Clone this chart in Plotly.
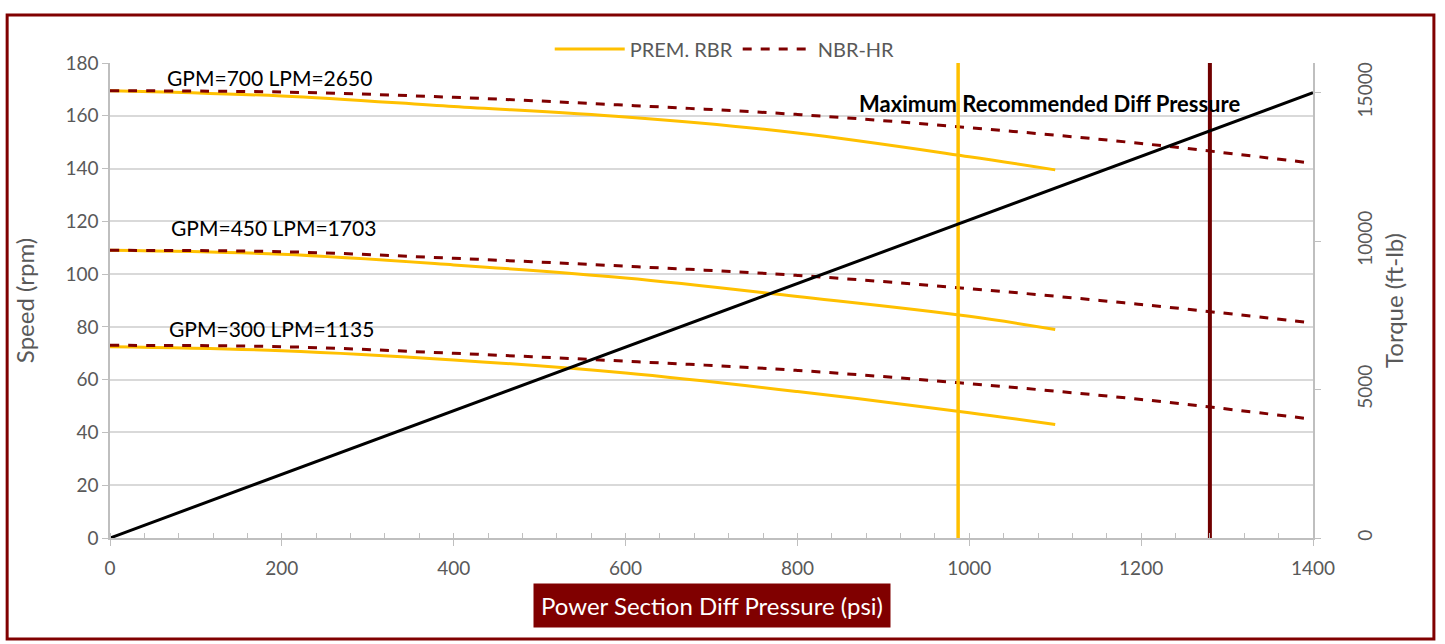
import plotly.graph_objects as go

# ---- data ----
psi_rbr = [0, 200, 400, 600, 800, 1000, 1100]
rbr_700 = [169.5, 167.5, 163.5, 159.5, 153.5, 144.5, 139.5]
rbr_450 = [109, 107.5, 103.5, 98.5, 91.5, 84, 79]
rbr_300 = [72.5, 71, 67.5, 62.5, 55.5, 47.5, 43]

psi_nbr = [0, 200, 400, 600, 800, 1000, 1200, 1400]
nbr_700 = [169.5, 169, 167, 164, 160.5, 155.5, 149.5, 142]
nbr_450 = [109, 108.5, 106, 103, 99.5, 94.5, 88.5, 81.5]
nbr_300 = [73, 72.5, 70, 67, 63.5, 58.5, 52.5, 45]

torque_psi = [0, 1400]
torque_ftlb = [0, 15000]

max_diff_rbr = 987
max_diff_nbr = 1280
speed_span = [0, 180]

flow_labels = ["GPM=700 LPM=2650", "GPM=450 LPM=1703", "GPM=300 LPM=1135"]
flow_label_pos = [(186, 174.5), (190, 117.5), (188, 79.5)]

FONT = "Lato"
GREY = "#595959"
YEL = "#FFC000"
RED = "#7F0000"

fig = go.Figure()

for i, ys in enumerate([rbr_700, rbr_450, rbr_300]):
    fig.add_trace(go.Scatter(x=psi_rbr, y=ys, mode="lines", name="PREM. RBR",
                             legendgroup="rbr", showlegend=(i == 0),
                             line=dict(color=YEL, width=3, shape="spline")))
for i, ys in enumerate([nbr_700, nbr_450, nbr_300]):
    fig.add_trace(go.Scatter(x=psi_nbr, y=ys, mode="lines", name="NBR-HR",
                             legendgroup="nbr", showlegend=(i == 0),
                             line=dict(color=RED, width=3, dash="dash", shape="spline")))

fig.add_trace(go.Scatter(x=[max_diff_rbr, max_diff_rbr], y=speed_span, mode="lines",
                         showlegend=False, line=dict(color=YEL, width=3.5)))
fig.add_trace(go.Scatter(x=[max_diff_nbr, max_diff_nbr], y=speed_span, mode="lines",
                         showlegend=False, line=dict(color="#700000", width=4)))

fig.add_trace(go.Scatter(x=torque_psi, y=torque_ftlb, mode="lines", yaxis="y2",
                         showlegend=False, line=dict(color="black", width=3)))

for txt, (px, py) in zip(flow_labels, flow_label_pos):
    fig.add_annotation(x=px, y=py, text=txt, showarrow=False,
                       font=dict(family=FONT, size=21, color="black"))

fig.add_annotation(x=1093, y=164.5, text="<b>Maximum Recommended Diff Pressure</b>",
                   showarrow=False, font=dict(family=FONT, size=22, color="black"))

fig.add_annotation(xref="paper", yref="paper", x=0.5, y=-0.143, yanchor="middle",
                   text="Power Section Diff Pressure (psi)", showarrow=False,
                   bgcolor="#800000", borderpad=7,
                   font=dict(family=FONT, size=24, color="white"))

# outer border
fig.add_shape(type="rect", xref="paper", yref="paper",
              x0=-0.0855, x1=1.1005, y0=-0.2125, y1=1.101,
              line=dict(color="#800000", width=3))

fig.update_layout(
    width=1445, height=644,
    margin=dict(l=110, r=132, t=63, b=106),
    paper_bgcolor="white", plot_bgcolor="white",
    font=dict(family=FONT, size=19, color=GREY),
    legend=dict(orientation="h", x=0.511, xanchor="center", y=1.0295, yanchor="middle",
                itemwidth=70, font=dict(size=20, color=GREY), bgcolor="rgba(0,0,0,0)"),
    xaxis=dict(range=[0, 1400], tickvals=[0, 200, 400, 600, 800, 1000, 1200, 1400],
               showgrid=False, zeroline=False, showline=True, linecolor="#BFBFBF",
               linewidth=1.5, ticks="outside", ticklen=6, tickcolor="#BFBFBF",
               ticklabelstandoff=6,
               minor=dict(dtick=40, ticks="inside", ticklen=5, tickcolor="#BFBFBF", showgrid=False),
               tickfont=dict(size=19, color=GREY)),
    yaxis=dict(range=[0, 180], dtick=20, showgrid=True, gridcolor="#D9D9D9", gridwidth=1.5,
               zeroline=False, showline=True, linecolor="#BFBFBF", linewidth=1.5,
               ticks="outside", ticklen=6, tickcolor="#BFBFBF",
               title=dict(text="Speed (rpm)", font=dict(size=24, color=GREY), standoff=24),
               tickfont=dict(size=19, color=GREY)),
    yaxis2=dict(range=[0, 16000], tickvals=[0, 5000, 10000, 15000], tickformat="d",
                overlaying="y", side="right", showgrid=False, zeroline=False, showline=True,
                linecolor="#BFBFBF", linewidth=1.5, ticks="outside", ticklen=6,
                tickcolor="#BFBFBF", tickangle=-90, ticklabelstandoff=28,
                title=dict(text="Torque (ft-lb)", font=dict(size=24, color=GREY), standoff=12),
                tickfont=dict(size=19, color=GREY)),
)

fig.write_html("out.html", config={"displayModeBar": False},
               post_script="document.body.style.margin='0px';document.body.style.overflow='hidden';")
